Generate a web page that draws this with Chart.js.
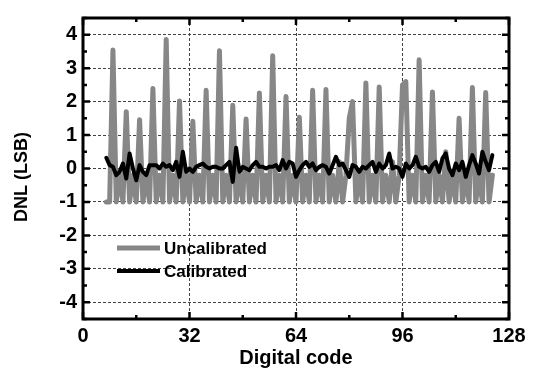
<!DOCTYPE html>
<html>
<head>
<meta charset="utf-8">
<script src="https://cdn.jsdelivr.net/npm/chart.js@4.4.1/dist/chart.umd.min.js"></script>
<style>
  html, body { margin: 0; padding: 0; background: #fff; }
  #wrap { width: 533px; height: 370px; }
</style>
</head>
<body>
<div id="wrap"><canvas id="dnlChart" width="533" height="370"></canvas></div>
<script>
// DNL per code, codes 7..123
const firstCode = 7;
const uncalibrated = [
  -1, -1, 3.54,
  -1, -0.2, -1, 1.70,  -1, -0.2, -1, 1.46,  -1, -0.2, -1, 2.39,
  -1, -0.2, -1, 3.86,  -1, -0.2, -1, 2.02,  -1, -0.2, -1, 1.41,
  -1, -0.2, -1, 2.34,  -1, -0.2, -1, 3.52,  -1, -0.2, -1, 1.89,
  -1, -0.2, -1, 1.48,  -1, -0.2, -1, 2.26,  -1, -0.2, -1, 3.37,
  -1, -0.2, -1, 2.15,  -1, -0.2, -1, 1.53,  -1, -0.2, -1, 2.34,
  -1, -0.2, -1, 2.36,  -1, -0.2, -1, 0.2,   -1, -0.2, 1.5, 2.0,
  -1, -0.2, -1, 2.56,  -1, -0.2, -1, 2.44,  -1, -0.2, -1, 0.2,
  -1, -0.2, 2.5, 2.6,  -1, -0.2, -1, 3.25,  -1, -0.2, -1, 2.29,
  -1, -0.2, -1, 0.5,   -1, -0.2, -1, 1.5,   -1, -0.2, -1, 2.42,
  -1, -0.2, -1, 2.27,
  -1, -0.2
];
const calibrated = [
  0.32, 0.1, 0.05, -0.2, -0.1, 0.15, -0.3, 0.45, 0.0, -0.35, 0.1,
  -0.1, -0.2, 0.1, 0.1, 0.1, 0.0, 0.15, 0.05, 0.1, -0.05, 0.2, -0.25,
  0.5, -0.1, 0.0, -0.1, 0.05, 0.1, 0.15, 0.05, 0.0, 0.05, 0.05, 0.0,
  0.0, 0.1, 0.2, -0.4, 0.62, -0.1, 0.05, 0.0, -0.05, 0.1, 0.2, 0.05,
  0.05, 0.0, 0.05, 0.05, 0.1, -0.05, 0.25, 0.0, 0.2, 0.15, -0.25, -0.05,
  0.1, 0.2, 0.05, 0.15, -0.05, 0.05, 0.1, 0.05, -0.15, 0.1, 0.35, 0.1,
  0.15, -0.05, -0.25, 0.1, 0.05, -0.1, 0.05, 0.0, 0.1, 0.2, -0.1, 0.15,
  0.0, 0.1, 0.45, 0.0, 0.05, 0.0, -0.25, 0.15, 0.0, 0.1, 0.35, 0.05,
  0.0, 0.05, -0.1, 0.1, 0.2, -0.1, 0.3, 0.45, 0.0, -0.2, 0.15, -0.05,
  0.2, -0.25, 0.1, 0.4, 0.15, -0.15, 0.5, 0.2, -0.05, 0.4
];
const xTicks = [0, 32, 64, 96, 128];
const xMinor = [16, 48, 80, 112];
const yTicks = [-4, -3, -2, -1, 0, 1, 2, 3, 4];
const yMinor = [-4.5, -3.5, -2.5, -1.5, -0.5, 0.5, 1.5, 2.5, 3.5, 4.5];

const toPoints = (vals) => vals.map((v, i) => ({ x: firstCode + i, y: v }));

const FONT = "'Liberation Sans', Arial, sans-serif";
const GRAY = "#878787";

// inward ticks, heavy frame, y title and the legend box inside the plot
const framePlugin = {
  id: "frame",
  afterDraw(chart) {
    const { ctx, chartArea: a, scales } = chart;
    const x = scales.x, y = scales.y;
    ctx.save();
    ctx.strokeStyle = "#000";
    ctx.lineWidth = 2.5;
    const tick = (px, len, horiz) => {
      ctx.beginPath();
      if (horiz) {
        ctx.moveTo(px, a.bottom); ctx.lineTo(px, a.bottom - len);
        ctx.moveTo(px, a.top); ctx.lineTo(px, a.top + len);
      } else {
        ctx.moveTo(a.left, px); ctx.lineTo(a.left + len, px);
        ctx.moveTo(a.right, px); ctx.lineTo(a.right - len, px);
      }
      ctx.stroke();
    };
    xTicks.forEach((v) => tick(x.getPixelForValue(v), 7, true));
    xMinor.forEach((v) => tick(x.getPixelForValue(v), 4, true));
    yTicks.forEach((v) => tick(y.getPixelForValue(v), 7, false));
    yMinor.forEach((v) => tick(y.getPixelForValue(v), 4, false));
    ctx.lineWidth = 3;
    ctx.strokeRect(a.left, a.top, a.right - a.left, a.bottom - a.top);

    // y axis title
    ctx.fillStyle = "#000";
    ctx.font = "bold 18px " + FONT;
    ctx.textAlign = "center";
    ctx.textBaseline = "middle";
    ctx.translate(22, 177);
    ctx.rotate(-Math.PI / 2);
    ctx.fillText("DNL (LSB)", 0, 0);
    ctx.setTransform(1, 0, 0, 1, 0, 0);

    // legend
    const rows = [248, 271];
    ctx.font = "bold 17px " + FONT;
    ctx.textAlign = "left";
    ctx.lineCap = "butt";
    chart.data.datasets.forEach((ds, i) => {
      ctx.strokeStyle = ds.borderColor;
      ctx.lineWidth = ds.borderWidth;
      ctx.beginPath();
      ctx.moveTo(117, rows[i]);
      ctx.lineTo(160, rows[i]);
      ctx.stroke();
      ctx.fillText(ds.label, 164, rows[i] + 1);
    });
    ctx.restore();
  },
};

const tickFont = { family: FONT, size: 20, weight: "bold" };

new Chart(document.getElementById("dnlChart"), {
  type: "line",
  data: {
    datasets: [
      {
        label: "Uncalibrated",
        data: toPoints(uncalibrated),
        borderColor: GRAY,
        borderWidth: 5,
        borderJoinStyle: "round",
        borderCapStyle: "round",
        pointRadius: 0,
        tension: 0,
        order: 2,
      },
      {
        label: "Calibrated",
        data: toPoints(calibrated),
        borderColor: "#000",
        borderWidth: 4,
        borderJoinStyle: "round",
        borderCapStyle: "round",
        pointRadius: 0,
        tension: 0,
        order: 1,
      },
    ],
  },
  options: {
    responsive: false,
    animation: false,
    layout: { padding: { left: 0, top: 7, right: 24, bottom: 0 } },
    plugins: { legend: { display: false }, tooltip: { enabled: false } },
    scales: {
      x: {
        type: "linear",
        min: 0,
        max: 128,
        afterBuildTicks: (s) => { s.ticks = xTicks.map((v) => ({ value: v })); },
        afterFit: (s) => { s.height = 51; },
        grid: { color: "#444", lineWidth: 1, drawTicks: false },
        border: { display: false, dash: [3, 2] },
        ticks: { color: "#000", font: tickFont, padding: 5, maxRotation: 0 },
        title: { display: true, text: "Digital code", color: "#000", font: { family: FONT, size: 20, weight: "bold" }, padding: 0 },
      },
      y: {
        min: -4.5,
        max: 4.5,
        afterBuildTicks: (s) => { s.ticks = yTicks.map((v) => ({ value: v })); },
        afterFit: (s) => { s.width = 83; },
        grid: { color: "#444", lineWidth: 1, drawTicks: false },
        border: { display: false, dash: [3, 2] },
        ticks: { color: "#000", font: tickFont, padding: 6 },
      },
    },
  },
  plugins: [framePlugin],
});
</script>
</body>
</html>
